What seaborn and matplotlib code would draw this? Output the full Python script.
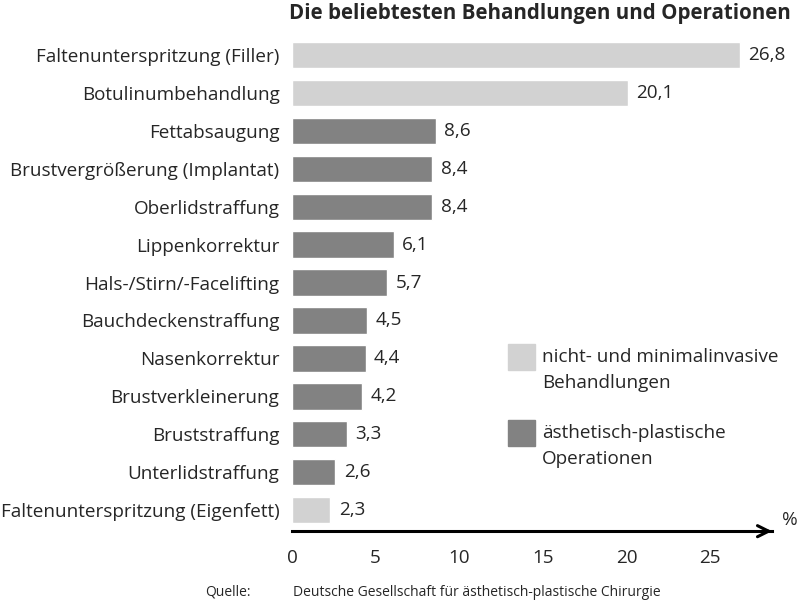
import pandas as pd
import matplotlib
matplotlib.use("Agg")
import matplotlib.pyplot as plt
import seaborn as sns
from matplotlib.patches import Rectangle

# data
behandlungen = [
    "Faltenunterspritzung (Filler)",
    "Botulinumbehandlung",
    "Fettabsaugung",
    "Brustvergrößerung (Implantat)",
    "Oberlidstraffung",
    "Lippenkorrektur",
    "Hals-/Stirn/-Facelifting",
    "Bauchdeckenstraffung",
    "Nasenkorrektur",
    "Brustverkleinerung",
    "Bruststraffung",
    "Unterlidstraffung",
    "Faltenunterspritzung (Eigenfett)",
]
anteile = [26.8, 20.1, 8.6, 8.4, 8.4, 6.1, 5.7, 4.5, 4.4, 4.2, 3.3, 2.6, 2.3]
typen = ["minimal", "minimal", "op", "op", "op", "op", "op", "op", "op", "op", "op", "op", "minimal"]
x_ticks = [0, 5, 10, 15, 20, 25]

typ_labels = {
    "minimal": ["nicht- und minimalinvasive", "Behandlungen"],
    "op": ["ästhetisch-plastische", "Operationen"],
}
farben = {"minimal": "#d2d2d2", "op": "#828282"}

df = pd.DataFrame({"name": behandlungen, "wert": anteile, "typ": typen})

sns.set_style("white")
plt.rcParams["font.family"] = ["Open Sans", "DejaVu Sans"]
fs = 13.6

fig = plt.figure(figsize=(8, 6.05), dpi=100)
ax = fig.add_axes([0.365, 0.122, 0.6, 0.822])

sns.barplot(data=df, x="wert", y="name", hue="typ", palette=farben,
            dodge=False, width=0.69, legend=False, ax=ax, saturation=1)

for cont in ax.containers:
    vals = [b.get_width() for b in cont]
    ax.bar_label(cont, labels=[f"{v:.1f}".replace(".", ",") if v > 0 else "" for v in vals],
                 padding=6, fontsize=fs)

ax.set_xlim(0, 28.7)
ax.set_ylim(len(behandlungen) - 0.45, -0.55)
ax.set_xticks(x_ticks)
ax.set_xticklabels([str(t) for t in x_ticks], fontsize=fs)
ax.set_xlabel("")
ax.set_ylabel("")
ax.tick_params(axis="y", length=0, pad=9, labelsize=fs)
ax.tick_params(axis="x", length=7, width=2.2, direction="out", pad=6, color="black")

for s in ["top", "right", "left"]:
    ax.spines[s].set_visible(False)
ax.spines["bottom"].set_linewidth(2.2)
ax.spines["bottom"].set_color("black")
ax.annotate("", xy=(1.0, 0), xytext=(0.98, 0), xycoords="axes fraction",
            arrowprops=dict(arrowstyle="->", lw=2.2, color="black",
                            mutation_scale=20, shrinkA=0, shrinkB=0))
fig.text(0.977, 0.126, "%", fontsize=fs, va="bottom", ha="left")

# title
fig.text(0.988, 0.977, "Die beliebtesten Behandlungen und Operationen",
         fontsize=14.8, fontweight="bold", ha="right", va="center")

# legend
for i, key in enumerate(["minimal", "op"]):
    yc = 357 + i * 76
    fig.patches.append(Rectangle((508 / 800, 1 - (yc + 13) / 605), 27 / 800, 26 / 605,
                                 transform=fig.transFigure, color=farben[key]))
    for j, line in enumerate(typ_labels[key]):
        fig.text(542 / 800, 1 - (yc + j * 26) / 605, line, fontsize=fs,
                 va="center", ha="left")

# source
fig.text(205 / 800, 1 - 592 / 605, "Quelle:", fontsize=10, va="center")
fig.text(293 / 800, 1 - 592 / 605,
         "Deutsche Gesellschaft für ästhetisch-plastische Chirurgie",
         fontsize=10, va="center")

fig.savefig("out.png", dpi=100)
